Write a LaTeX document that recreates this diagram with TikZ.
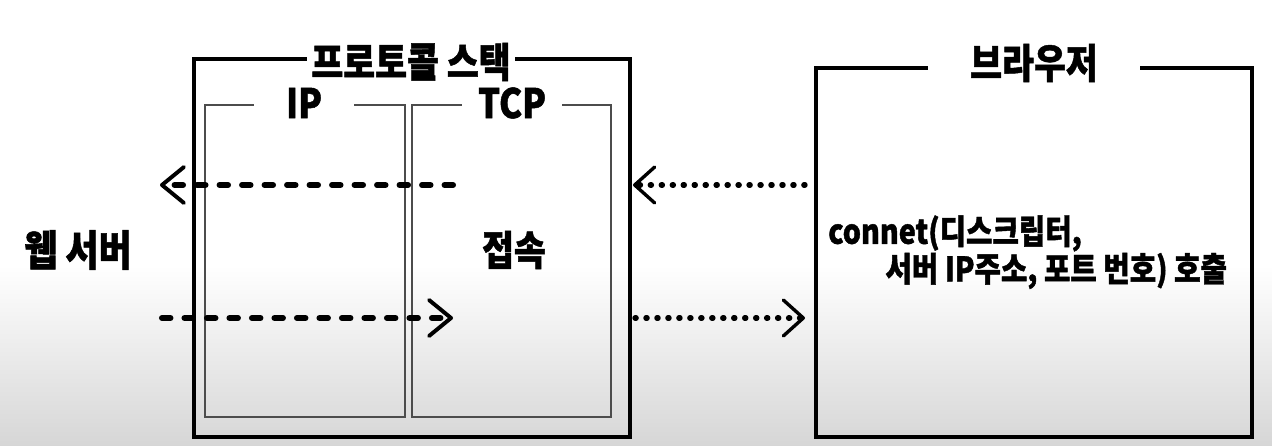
\documentclass[tikz,border=0pt]{standalone}
\usepackage{fontspec}
\setmainfont{Noto Sans CJK KR}[FakeStretch=0.85, BoldFeatures={FakeBold=1.2}]
\usetikzlibrary{arrows.meta}

\tikzset{
  boxline/.style = {draw=black, line width=2.2pt},
  layerline/.style = {draw=black!70, line width=1.1pt},
  title/.style = {fill=white, inner ysep=1pt, font=\bfseries\fontsize{29}{32}\selectfont},
  bigtext/.style = {font=\bfseries\fontsize{30}{34}\selectfont},
  sendarrow/.style = {line width=4.3pt, line cap=round, dash pattern=on 6pt off 10pt,
    -{Straight Barb[length=0.55cm,width=0.9cm,line width=2.8pt,round]}},
  callarrow/.style = {line width=3.8pt, line cap=round, dash pattern=on 0.8pt off 7pt,
    -{Straight Barb[length=0.5cm,width=0.9cm,line width=2.4pt,round]}}
}

\begin{document}
\begin{tikzpicture}[x=0.025cm, y=-0.025cm]
\useasboundingbox (0,0) rectangle (1272,446);
\fill[white] (0,0) rectangle (1272,446);
\shade[top color=white, bottom color=black!16] (0,265) rectangle (1272,446);

% protocol stack
\draw[boxline] (194,59) coordinate (stack nw) rectangle (630,437) coordinate (stack se);
\draw[layerline] (205,105) coordinate (ip nw) rectangle (405,417) coordinate (ip se);
\draw[layerline] (412,105) coordinate (tcp nw) rectangle (611,417) coordinate (tcp se);
\node[title, inner xsep=3pt] (stack title) at (411,62) {프로토콜 스택};
\node[title, inner xsep=0.8cm] (ip title) at (304,103) {IP};
\node[title, inner xsep=0.4cm] (tcp title) at (512,103) {TCP};
\node[bigtext, font=\bfseries\fontsize{29}{32}\selectfont] (connect) at (514,250) {접속};

% browser
\draw[boxline] (816,68) coordinate (browser nw) rectangle (1252,437) coordinate (browser se);
\node[title, inner xsep=1.05cm] (browser title) at (1034,63) {브라우저};
\node[anchor=north west, inner sep=0pt, align=left,
  font=\bfseries\fontsize{24}{23.4}\selectfont] (call) at (828,215)
  {connet(디스크립터,\\\hspace*{1.43cm}서버 IP주소, 포트 번호) 호출};

% web server
\node[bigtext] (server) at (78,250) {웹 서버};

% arrows
\coordinate (tcp out) at (453,185);
\coordinate (server in) at (160,185);
\coordinate (server out) at (162,318);
\coordinate (tcp in) at (453,318);
\draw[sendarrow] (tcp out) -- (server in);
\draw[sendarrow] (server out) -- (tcp in);
\draw[callarrow] (browser nw |- tcp out) ++(-11,0) -- (633,185);
\draw[callarrow] (635,318) -- ([xshift=-0.275cm]browser nw |- tcp in);
\end{tikzpicture}
\end{document}
